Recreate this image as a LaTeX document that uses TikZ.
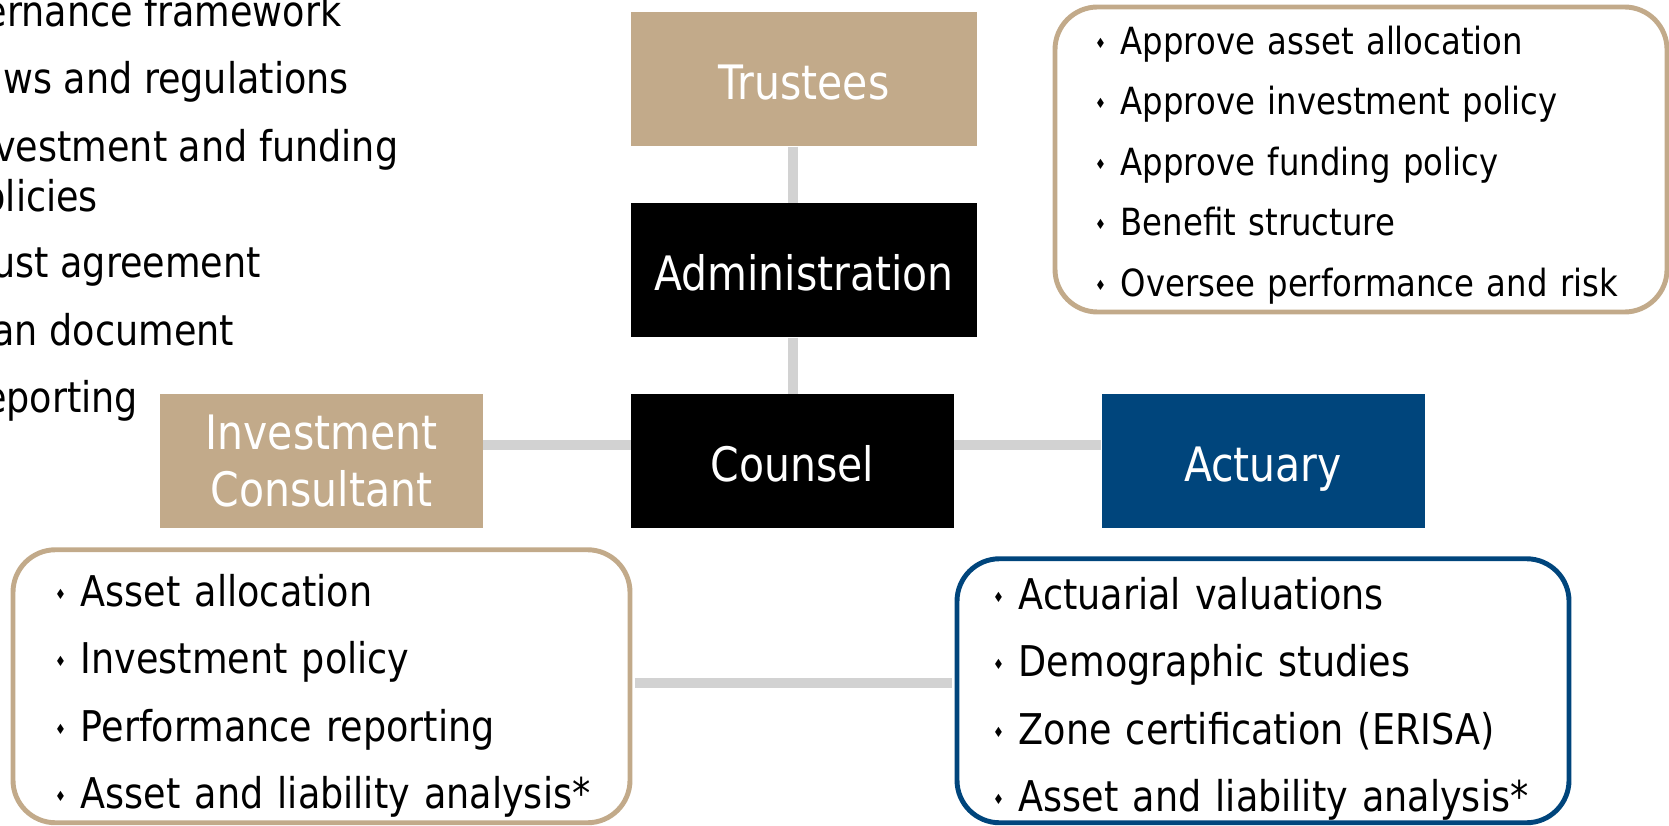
\documentclass[tikz,border=0pt]{standalone}
\usepackage{fontspec}
\setmainfont{DejaVu Sans}[FakeStretch=0.863]
\usetikzlibrary{positioning}

\definecolor{tan}{HTML}{C2AA8A}
\definecolor{navy}{HTML}{00457C}
\definecolor{linkgray}{HTML}{D2D2D2}
\newcommand{\point}[1]{\mbox{\raisebox{0.3ex}{\fontsize{8}{8}\selectfont ♦}\hspace{8.5pt}#1}}

\tikzset{
  role/.style={rectangle, text=white, align=center, inner sep=0pt,
    minimum width=6.92cm, minimum height=2.68cm, font=\fontsize{27}{32.4}\selectfont},
  oneline/.style={text height=23pt, text depth=0pt},
  duty/.style={rectangle, rounded corners=0.85cm, line width=2.8pt, fill=white},
  points/.style={align=left, inner sep=0pt},
  item/.style={anchor=base west, inner sep=0pt, font=\fontsize{24.1}{28.5}\selectfont},
  link/.style={draw=linkgray, line width=5.7pt},
}

\begin{document}
\begin{tikzpicture}
      \useasboundingbox (0,0) rectangle (33.38,-16.52);
      \clip (0,0) rectangle (33.38,-16.52);

      % governance list, cut at the left edge %
      \node[item] (gov) at (-1.76,-0.54) {Governance framework};
      \node[item] (laws) at (-0.80,-1.88) {Laws and regulations};
      \node[item] (policy) at (-0.80,-3.24) {Investment and funding};
      \node[item] (policy2) at (-0.80,-4.24) {policies};
      \node[item] (trust) at (-0.80,-5.56) {Trust agreement};
      \node[item] (plan) at (-0.80,-6.90) {Plan document};
      \node[item] (report) at (-0.80,-8.24) {Reporting};

      % nodes %
      \node[role, oneline, fill=tan] (trustees) at (16.08,-1.585) {Trustees};
      \node[role, oneline, fill=black, below of = trustees, node distance=3.82cm] (admin) {Administration};
      \node[role, oneline, fill=black, minimum width=6.46cm, below of = admin, node distance=3.82cm, xshift=-0.23cm] (counsel) {Counsel};
      \node[role, fill=tan, minimum width=6.46cm, left of = counsel, node distance=9.42cm] (invest) {Investment\\Consultant};
      \node[role, oneline, fill=navy, minimum width=6.46cm, right of = counsel, node distance=9.41cm] (actuary) {Actuary};

      % boxes of duties %
      \node[duty, draw=tan, minimum width=12.24cm, minimum height=6.10cm] (boardlist) at (27.22,-3.19) {};
      \node[points, text width=10.64cm, font=\fontsize{21.3}{34.4}\selectfont, yshift=-0.11cm] (boardtext) at (boardlist)
        {\point{Approve asset allocation}\\ \point{Approve investment policy}\\ \point{Approve funding policy}\\
         \point{Benefit structure}\\ \point{Oversee performance and risk}};
      \node[duty, draw=tan, minimum width=12.34cm, minimum height=5.46cm, below of = invest, node distance=4.5cm] (invlist) {};
      \node[points, text width=10.66cm, font=\fontsize{24.1}{38.3}\selectfont, yshift=-0.19cm] (invtext) at (invlist)
        {\point{Asset allocation}\\ \point{Investment policy}\\ \point{Performance reporting}\\
         \point{Asset and liability analysis*}};
      \node[duty, draw=navy, minimum width=12.24cm, minimum height=5.28cm, below of = actuary, node distance=4.59cm] (actlist) {};
      \node[points, text width=10.8cm, font=\fontsize{24.1}{38.3}\selectfont, yshift=-0.16cm] (acttext) at (actlist)
        {\point{Actuarial valuations}\\ \point{Demographic studies}\\ \point{Zone certification (ERISA)}\\
         \point{Asset and liability analysis*}};

      % edges %
      \draw[link] (trustees.south -| counsel) -- (admin.north -| counsel);
      \draw[link] (admin.south -| counsel) -- (counsel.north);
      \draw[link] ([yshift=0.32cm]invest.east) -- ([yshift=0.32cm]counsel.west);
      \draw[link] ([yshift=0.32cm]counsel.east) -- ([yshift=0.32cm]actuary.west);
      \draw[link, shorten <=1.4pt, shorten >=1.4pt] ([yshift=0.07cm]invlist.east) -- ([yshift=0.07cm]invlist.east -| actlist.west);
\end{tikzpicture}
\end{document}
